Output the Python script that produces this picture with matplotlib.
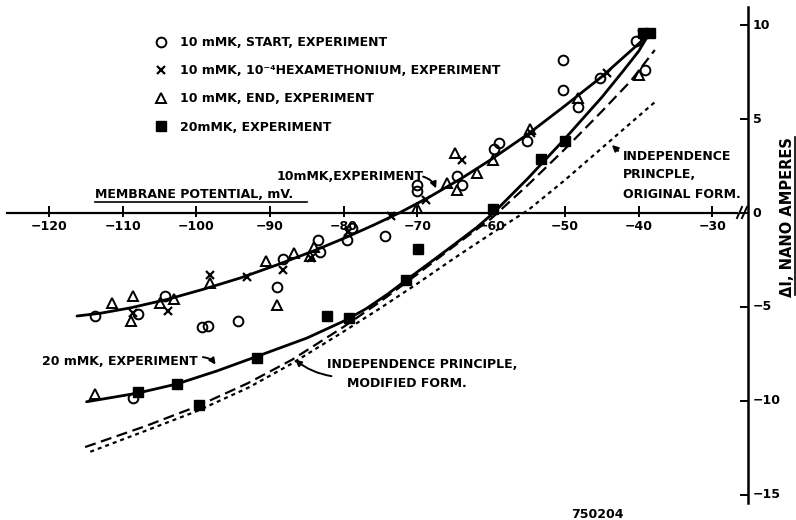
import numpy as np
import matplotlib.pyplot as plt

plt.rcParams['font.family'] = 'DejaVu Sans'
plt.rcParams['font.weight'] = 'bold'

# membrane potential (mV) and current change (nA) for each run
start_v = [-113.8, -107.9, -104.2, -99.3, -98.4, -94.3, -89.1, -88.3, -83.5, -83.2,
           -79.5, -78.9, -74.4, -70.1, -70.1, -64.7, -63.9, -59.6, -59.0, -55.1,
           -50.2, -50.2, -48.2, -45.2, -40.3, -39.1, -108.6]
start_i = [-5.48, -5.37, -4.4, -6.08, -6.0, -5.73, -3.92, -2.43, -1.44, -2.06,
           -1.44, -0.82, -1.2, 1.49, 1.19, 1.97, 1.5, 3.4, 3.7, 3.85,
           8.14, 6.54, 5.65, 7.16, 9.13, 7.6, -9.86]

hexa_v = [-108.6, -103.8, -98.2, -93.2, -88.2, -84.4, -79.4, -73.6, -68.8, -64.0, -54.6, -44.3, -39.5]
hexa_i = [-5.34, -5.2, -3.3, -3.42, -3.03, -2.4, -1.0, -0.15, 0.69, 2.8, 4.24, 7.43, 9.5]

end_v = [-113.8, -111.5, -108.6, -108.9, -104.9, -103.1, -98.2, -90.5, -89.1, -86.8,
         -84.6, -84.1, -70.1, -66.0, -64.9, -64.7, -61.9, -59.7, -54.7, -48.2, -40.0]
end_i = [-9.63, -4.8, -4.41, -5.72, -4.77, -4.59, -3.7, -2.54, -4.89, -2.15,
         -2.3, -1.83, 0.25, 1.58, 3.17, 1.22, 2.15, 2.82, 4.45, 6.1, 7.34]

k20_v = [-107.9, -102.7, -99.7, -91.8, -82.3, -79.3, -71.5, -69.9, -59.7, -53.2, -50.0, -39.4, -38.5]
k20_i = [-9.5, -9.1, -10.2, -7.7, -5.5, -5.6, -3.55, -1.9, 0.2, 2.85, 3.85, 9.55, 9.55]

# hand-drawn fits and the two independence-principle predictions
fit10_v = [-116.2, -113.0, -109.0, -104.0, -99.0, -94.0, -89.0, -84.0, -80.0, -76.0,
           -72.5, -68.3, -64.0, -60.0, -55.0, -50.0, -45.0, -40.0, -38.5]
fit10_i = [-5.48, -5.33, -5.05, -4.6, -4.05, -3.45, -2.75, -2.0, -1.35, -0.65,
           0.0, 0.87, 1.85, 2.85, 4.2, 5.7, 7.25, 9.0, 9.56]

fit20_v = [-114.9, -108.1, -102.7, -97.2, -91.8, -85.0, -80.0, -77.0, -74.0, -71.5,
           -68.0, -65.0, -62.0, -59.7, -55.0, -50.0, -45.0, -42.0, -40.0, -38.7]
fit20_i = [-10.04, -9.59, -9.1, -8.4, -7.63, -6.65, -5.75, -5.1, -4.3, -3.56,
           -2.55, -1.67, -0.78, 0.0, 1.85, 3.95, 6.15, 7.6, 8.6, 9.45]

modified_v = [-115.1, -107.0, -100.0, -93.0, -87.0, -80.0, -75.0, -70.0, -65.0, -60.0,
              -55.0, -50.0, -45.0, -41.0, -37.8]
modified_i = [-12.45, -11.35, -10.3, -9.05, -7.8, -6.05, -4.7, -3.25, -1.75, -0.3,
              1.5, 3.4, 5.4, 7.05, 8.67]

original_v = [-114.4, -107.0, -100.0, -93.0, -87.0, -80.0, -75.0, -70.0, -65.0, -60.0,
              -55.0, -50.0, -45.0, -40.0, -37.5]
original_i = [-12.7, -11.6, -10.55, -9.3, -8.0, -6.3, -5.05, -3.75, -2.4, -1.1,
              0.15, 1.75, 3.45, 5.15, 6.0]

xtick_vals = [-120, -110, -100, -90, -80, -70, -60, -50, -40, -30]
ytick_vals = [10, 5, 0, -5, -10, -15]
ytick_text = ['10', '5', '0', '\u22125', '\u221210', '\u221215']

fig = plt.figure(figsize=(7.96, 5.2), dpi=100)
ax = fig.add_axes([0, 0, 1, 1])
ax.set_xlim(-126.65, -18.64)
ax.set_ylim(-16.33, 11.33)
ax.axis('off')

# axes drawn by hand: potential axis through zero current, current axis at the right
ax.plot([-125.7, -26.65], [0, 0], color='k', lw=1.6)
ax.plot([-26.65, -25.97], [-0.27, 0.32], color='k', lw=1.4)
ax.plot([-25.97, -25.29], [-0.27, 0.32], color='k', lw=1.4)
ax.plot([-25.1, -25.1], [-15.43, 10.96], color='k', lw=1.8)
for v in xtick_vals:
    ax.plot([v, v], [-0.18, 0.32], color='k', lw=1.4)
    ax.text(v, -0.72, '\u2212%d' % abs(v), ha='center', va='center', fontsize=9)
for v, s in zip(ytick_vals, ytick_text):
    ax.plot([-26.05, -25.1], [v, v], color='k', lw=1.4)
    ax.text(-24.5, v, s, ha='left', va='center', fontsize=9)

ax.text(-113.76, 0.8, 'MEMBRANE POTENTIAL, mV.', fontsize=9, va='baseline')
ax.plot([-113.76, -85.0], [0.585, 0.585], color='k', lw=1.2)
ax.text(-19.86, -0.2, '\u0394I, NANO AMPERES', rotation=90, ha='center', va='center', fontsize=10.5)
ax.plot([-18.78, -18.78], [-4.36, 4.04], color='k', lw=1.2)

# fitted curves and predictions
ax.plot(fit10_v, fit10_i, color='k', lw=2.0, solid_capstyle='round', solid_joinstyle='round')
ax.plot(fit20_v, fit20_i, color='k', lw=2.0, solid_capstyle='round', solid_joinstyle='round')
ax.plot(modified_v, modified_i, color='k', lw=1.6, dashes=(5, 2.5))
ax.plot(original_v, original_i, color='k', lw=1.6, dashes=(1.8, 1.8))

# experimental points
ax.plot(start_v, start_i, 'o', ms=7, mfc='none', mec='k', mew=1.4, ls='none',
        label='10 mMK, START, EXPERIMENT')
ax.plot(hexa_v, hexa_i, 'x', ms=5.5, mec='k', mew=1.6, ls='none',
        label='10 mMK, 10\u207b\u2074HEXAMETHONIUM, EXPERIMENT')
ax.plot(end_v, end_i, '^', ms=7.5, mfc='none', mec='k', mew=1.4, ls='none',
        label='10 mMK, END, EXPERIMENT')
ax.plot(k20_v, k20_i, 's', ms=6.5, mfc='k', mec='k', ls='none',
        label='20mMK, EXPERIMENT')

ax.legend(loc='upper left', bbox_to_anchor=(155 / 796, 1 - 36 / 520),
          bbox_transform=fig.transFigure, frameon=False, fontsize=9,
          handlelength=1.0, handletextpad=1.0, labelspacing=1.22,
          borderpad=0, borderaxespad=0)

# curve labels with arrows
arrow = dict(arrowstyle='-|>', color='k', lw=1.4, mutation_scale=9)
ax.text(-89.06, 1.76, '10mMK,EXPERIMENT', fontsize=9, va='baseline')
ax.annotate('', xy=(-67.35, 1.17), xytext=(-69.6, 1.97),
            arrowprops=dict(arrow, connectionstyle='arc3,rad=-0.3'))
ax.text(-120.95, -8.09, '20 mMK, EXPERIMENT', fontsize=9, va='baseline')
ax.annotate('', xy=(-97.2, -8.19), xytext=(-99.5, -7.66),
            arrowprops=dict(arrow, connectionstyle='arc3,rad=-0.3'))
ax.text(-82.28, -8.24, 'INDEPENDENCE PRINCIPLE,', fontsize=9, va='baseline')
ax.text(-79.57, -9.27, 'MODIFIED FORM.', fontsize=9, va='baseline')
ax.annotate('', xy=(-86.9, -7.71), xytext=(-81.3, -8.7),
            arrowprops=dict(arrow, connectionstyle='arc3,rad=-0.15'))
ax.text(-42.12, 2.82, 'INDEPENDENCE', fontsize=9, va='baseline')
ax.text(-42.12, 1.85, 'PRINCPLE,', fontsize=9, va='baseline')
ax.text(-42.12, 0.81, 'ORIGINAL FORM.', fontsize=9, va='baseline')
ax.annotate('', xy=(-43.9, 3.72), xytext=(-42.5, 3.2), arrowprops=arrow)

ax.text(-45.64, -16.2, '750204', ha='center', va='baseline', fontsize=9)

fig.savefig('out.png', dpi=100)
